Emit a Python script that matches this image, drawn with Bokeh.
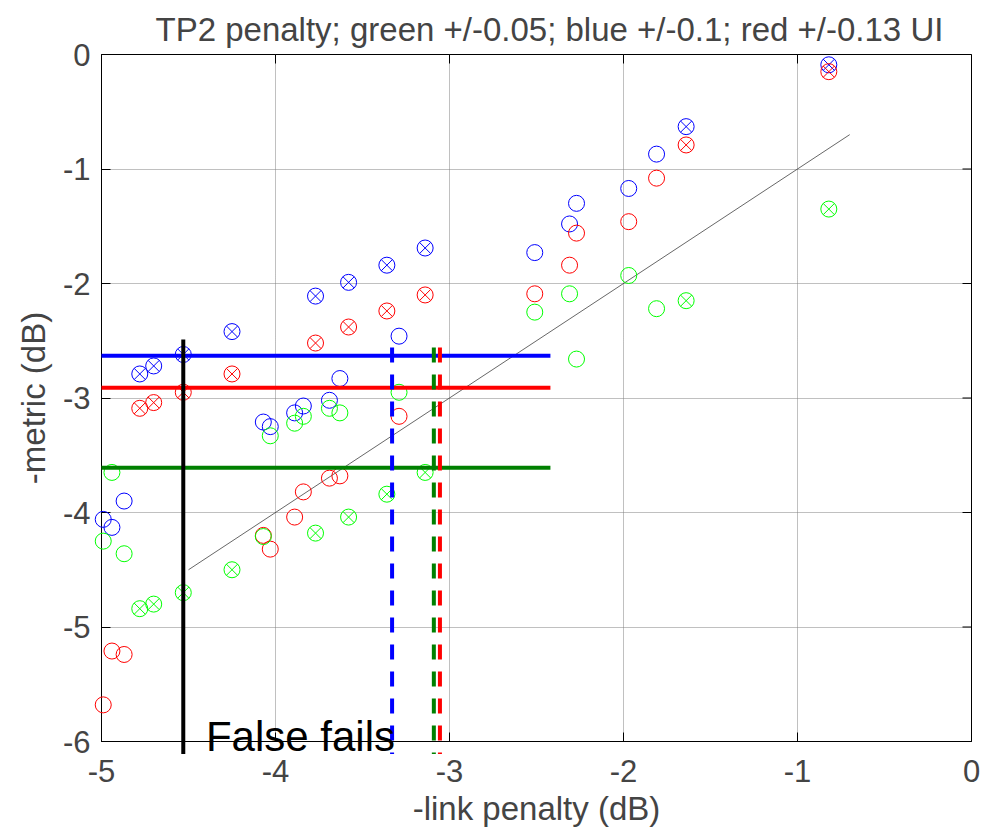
import math
from bokeh.plotting import figure
from bokeh.models import FixedTicker, Range1d, CustomJSTickFormatter
from bokeh.core.properties import value
from bokeh.embed import file_html
from bokeh.resources import INLINE

# ---- data ----
x_open = [-4.99, -4.94, -4.87, -4.07, -4.03, -3.89, -3.84, -3.69, -3.63, -3.29, -2.51, -2.31, -2.27, -1.97, -1.81]
blue_open = [-4.06, -4.13, -3.90, -3.21, -3.25, -3.13, -3.07, -3.02, -2.83, -2.46, -1.73, -1.48, -1.30, -1.17, -0.87]
red_open = [-5.68, -5.21, -5.24, -4.20, -4.32, -4.04, -3.82, -3.70, -3.68, -3.16, -2.09, -1.84, -1.56, -1.46, -1.08]
green_open = [-4.25, -3.65, -4.36, -4.21, -3.33, -3.22, -3.16, -3.09, -3.13, -2.95, -2.25, -2.09, -2.66, -1.93, -2.22]

x_cross = [-4.78, -4.70, -4.53, -4.25, -3.77, -3.58, -3.36, -3.14, -1.64, -0.82]
blue_cross = [-2.79, -2.72, -2.62, -2.42, -2.11, -1.99, -1.84, -1.69, -0.63, -0.09]
red_cross = [-3.09, -3.04, -2.95, -2.79, -2.52, -2.38, -2.24, -2.10, -0.79, -0.15]
green_cross = [-4.84, -4.80, -4.70, -4.50, -4.18, -4.04, -3.84, -3.65, -2.15, -1.35]

# reference diagonal (y = x)
diag_x = [-4.5, -0.7]
diag_y = [-4.5, -0.7]

# threshold lines
h_levels = {"blue": -2.63, "red": -2.91, "green": -3.61}
h_x = [-5.0, -2.42]
v_black_x = -4.53
v_black_y = [-2.49, -6.11]
v_dash = {"blue": -3.33, "green": -3.09, "red": -3.055}
v_dash_y = [-2.56, -6.11]

note_text = ["False fails"]
note_x = [-4.40]
note_y = [-5.96]

x_ticks = [-5, -4, -3, -2, -1, 0]
y_ticks = [-6, -5, -4, -3, -2, -1, 0]

FONT = "Liberation Sans"
BLUE, RED, GREEN = "#0000ff", "#ff0000", "#00ff00"
DKGREEN = "#008000"

p = figure(width=984, height=833, output_backend="svg", toolbar_location=None,
           x_range=Range1d(-5, 0), y_range=Range1d(-6, 0),
           min_border_left=101, min_border_right=13, min_border_top=54, min_border_bottom=92)

p.title.text = "TP2 penalty; green +/-0.05; blue +/-0.1; red +/-0.13 UI"
p.title.text_font = FONT
p.title.text_font_size = "33px"
p.title.text_font_style = "normal"
p.title.align = "left"
p.title.offset = 54
p.title.standoff = 14

fmt = CustomJSTickFormatter(code="return tick.toString()")
for ax in (p.xaxis[0], p.yaxis[0]):
    ax.formatter = fmt
    ax.major_label_text_font = FONT
    ax.major_label_text_font_size = "31px"
    ax.axis_label_text_font = FONT
    ax.axis_label_text_font_size = "33px"
    ax.axis_label_text_font_style = "normal"
    ax.major_tick_in = 9
    ax.major_tick_out = 0
    ax.minor_tick_in = 0
    ax.minor_tick_out = 0
    ax.axis_line_color = "black"
    ax.major_tick_line_color = "black"

p.xaxis[0].ticker = FixedTicker(ticks=x_ticks)
p.yaxis[0].ticker = FixedTicker(ticks=y_ticks)
p.xaxis[0].axis_label = "-link penalty (dB)"
p.yaxis[0].axis_label = "-metric (dB)"
p.xaxis[0].major_label_standoff = 18
p.xaxis[0].axis_label_standoff = 5
p.yaxis[0].major_label_standoff = 11
p.yaxis[0].axis_label_standoff = 8

p.outline_line_color = "black"
p.xgrid.ticker = FixedTicker(ticks=x_ticks)
p.ygrid.ticker = FixedTicker(ticks=y_ticks)
for g in (p.xgrid, p.ygrid):
    g.grid_line_color = "#808080"
    g.grid_line_dash = "1 1"
    g.grid_line_width = 1

# inward ticks on top and right edges (half of each dash is clipped by the frame)
p.scatter(x_ticks, [max(y_ticks)] * len(x_ticks), marker="dash", angle=math.pi / 2,
          size=18, line_color="black", line_width=1)
p.scatter([max(x_ticks)] * len(y_ticks), y_ticks, marker="dash",
          size=18, line_color="black", line_width=1)

# markers (drawn unclipped, like the original)
for ys, c in ((blue_open, BLUE), (red_open, RED), (green_open, GREEN)):
    p.scatter(x_open, ys, marker="circle", size=16, fill_color=None, line_color=c,
              line_width=1, level="overlay")
for ys, c in ((blue_cross, BLUE), (red_cross, RED), (green_cross, GREEN)):
    p.scatter(x_cross, ys, marker="circle_x", size=16, fill_color=None, line_color=c,
              line_width=1, level="overlay")

p.line(diag_x, diag_y, line_color="#404040", line_width=0.8)

# threshold lines
p.line(h_x, [h_levels["blue"]] * 2, line_color=BLUE, line_width=4, level="overlay")
p.line(h_x, [h_levels["red"]] * 2, line_color=RED, line_width=4, level="overlay")
p.line(h_x, [h_levels["green"]] * 2, line_color=DKGREEN, line_width=4, level="overlay")
p.line([v_black_x] * 2, v_black_y, line_color="black", line_width=4, level="overlay")
p.line([v_dash["blue"]] * 2, v_dash_y, line_color=BLUE, line_width=4, line_dash="15 12", level="overlay")
p.line([v_dash["green"]] * 2, v_dash_y, line_color=DKGREEN, line_width=4, line_dash="15 12", level="overlay")
p.line([v_dash["red"]] * 2, v_dash_y, line_color=RED, line_width=4, line_dash="15 12", level="overlay")

p.text(note_x, note_y, text=note_text, text_font=value(FONT), text_font_size="42px",
       text_color="black", text_baseline="alphabetic", text_align="left", level="overlay")

open("out.html", "w").write(file_html(p, INLINE))
